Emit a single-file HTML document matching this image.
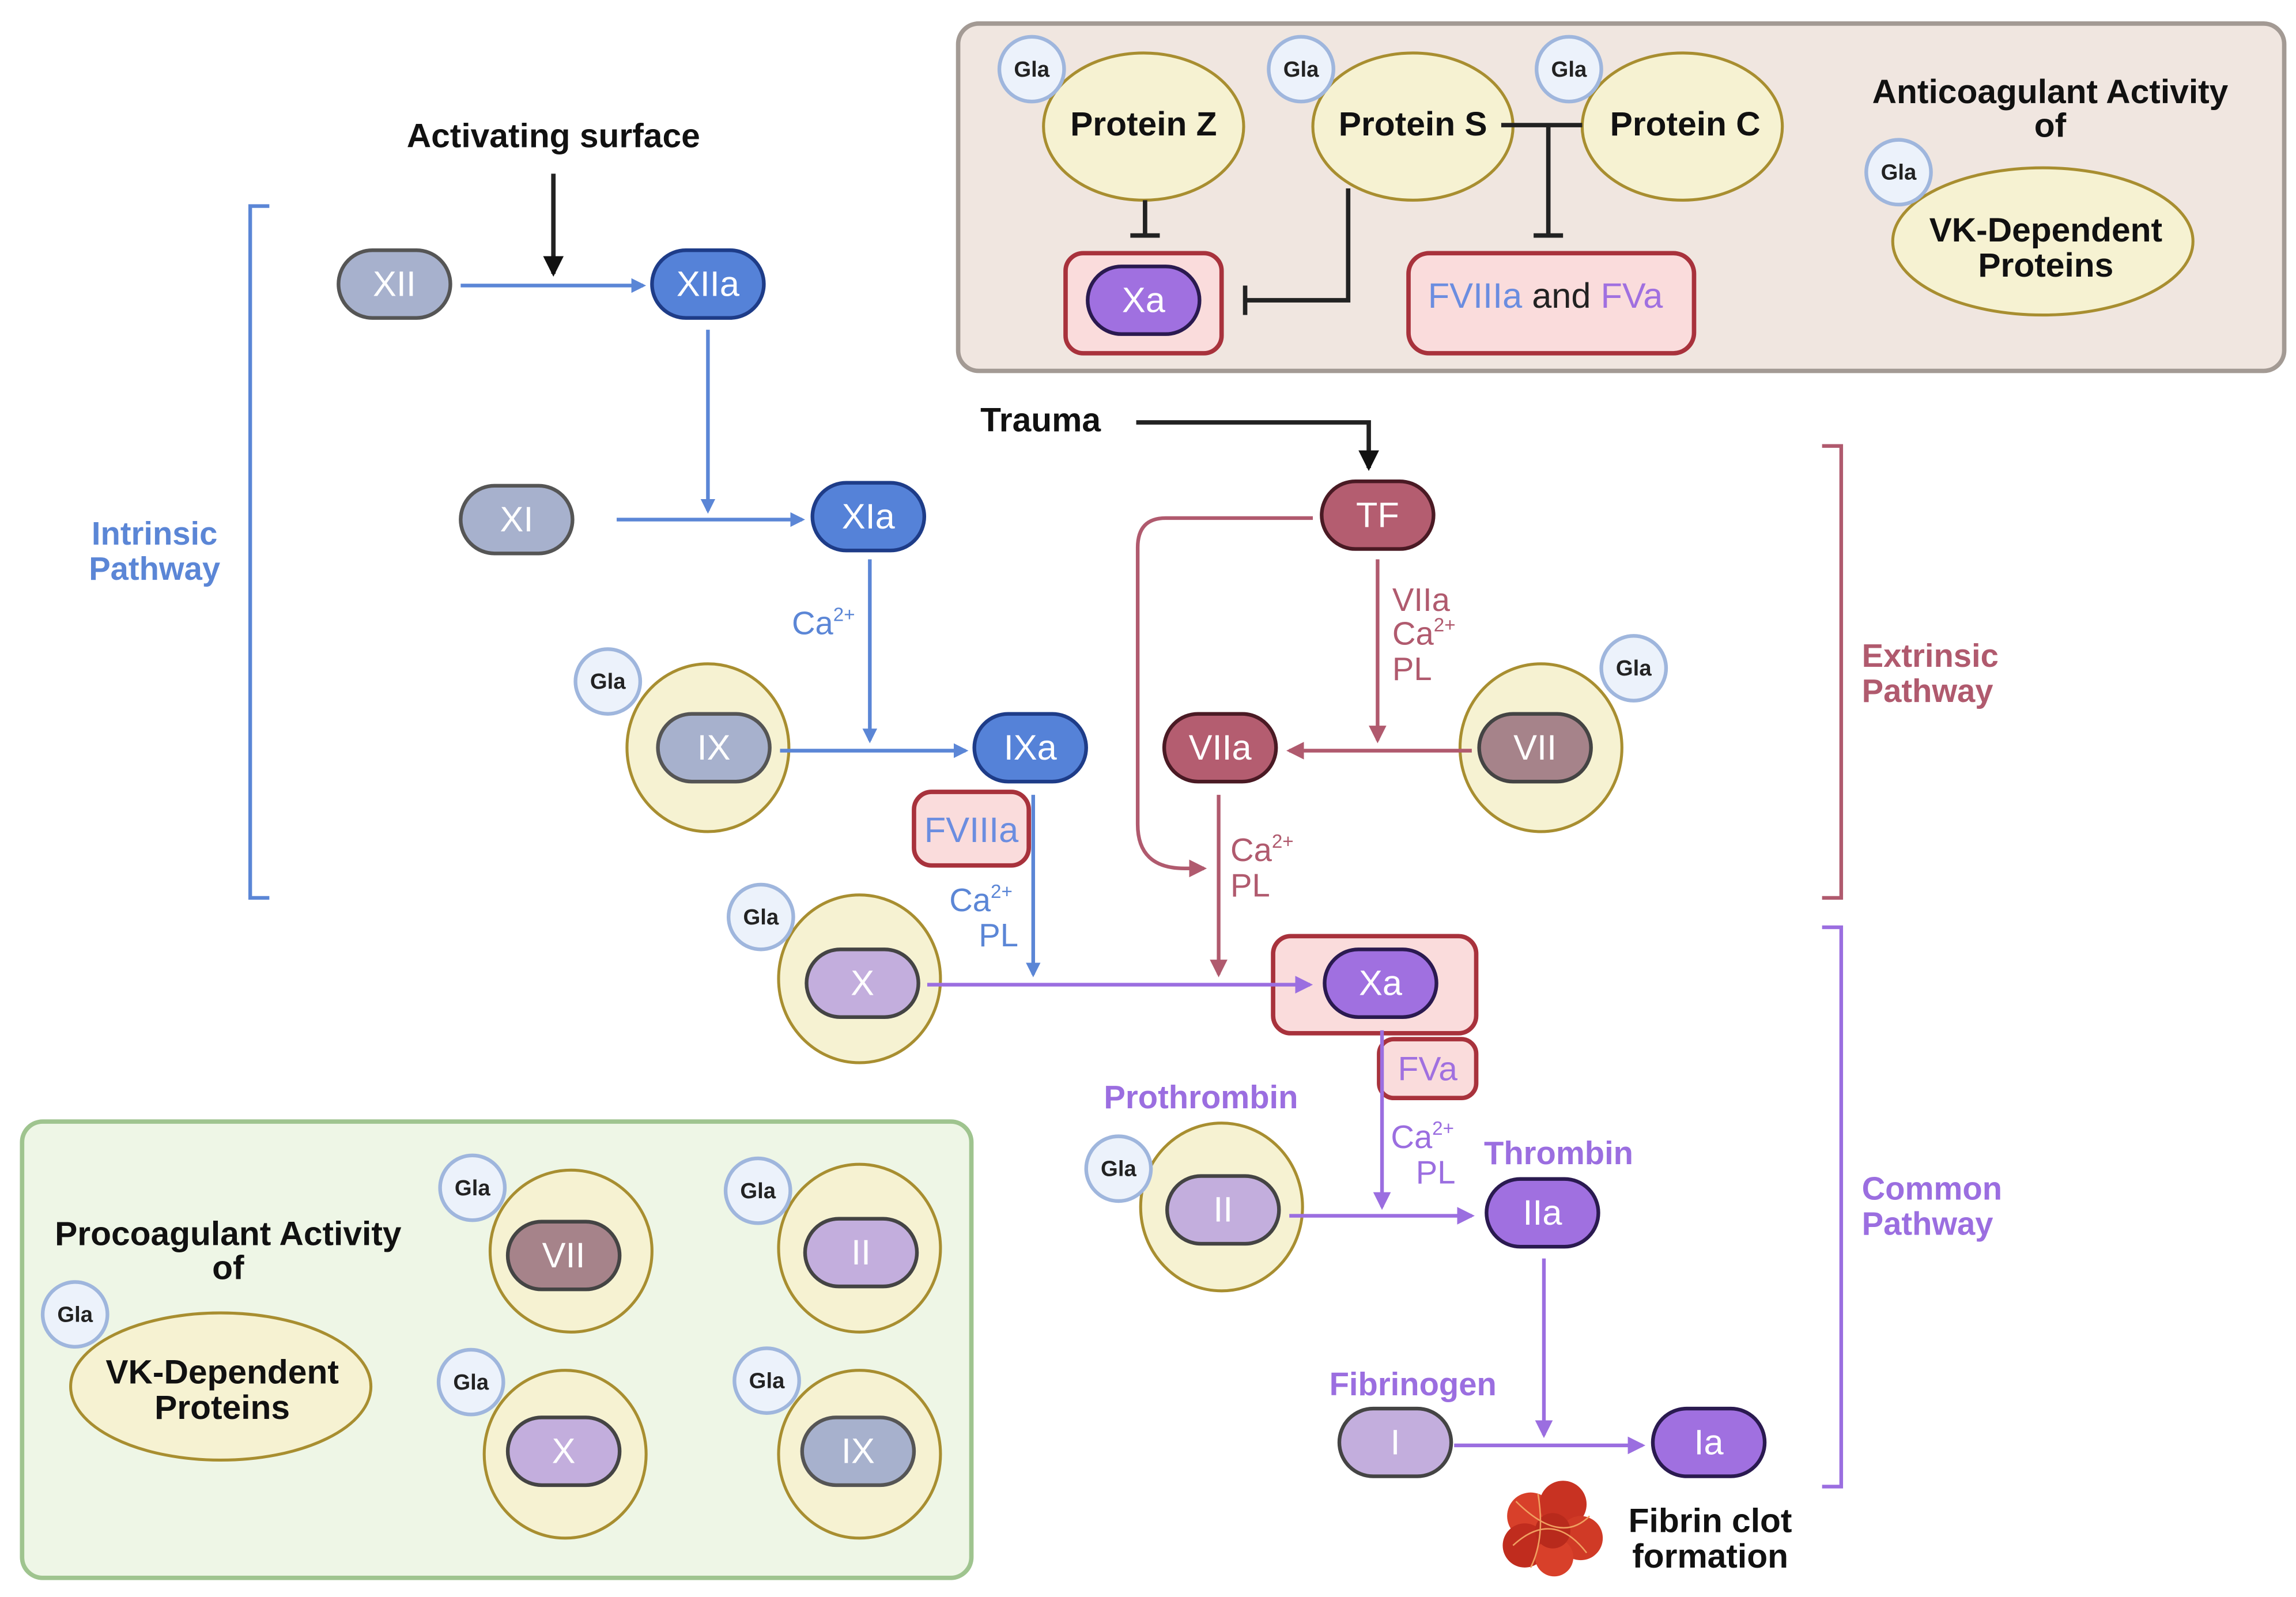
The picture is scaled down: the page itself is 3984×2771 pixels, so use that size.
<!DOCTYPE html>
<html><head><meta charset="utf-8"><style>
html,body{margin:0;padding:0;background:#fff}
svg{display:block}
text{font-family:"Liberation Sans",sans-serif}
</style></head><body>
<svg width="3984" height="2771" viewBox="0 0 1560 1085" preserveAspectRatio="none" xmlns="http://www.w3.org/2000/svg">
<defs>
<marker id="ab" markerWidth="10" markerHeight="10" refX="8" refY="5" orient="auto" markerUnits="userSpaceOnUse"><path d="M0,0 L10,5 L0,10 z" fill="#5b86d6"/></marker>
<marker id="ar" markerWidth="12" markerHeight="12" refX="10" refY="6" orient="auto" markerUnits="userSpaceOnUse"><path d="M0,0 L12,6 L0,12 z" fill="#b05a6e"/></marker>
<marker id="ap" markerWidth="12" markerHeight="12" refX="10" refY="6" orient="auto" markerUnits="userSpaceOnUse"><path d="M0,0 L12,6 L0,12 z" fill="#9b6ee0"/></marker>
<marker id="ak" markerWidth="14" markerHeight="14" refX="12" refY="7" orient="auto" markerUnits="userSpaceOnUse"><path d="M0,0 L14,7 L0,14 z" fill="#111"/></marker>
</defs>

<rect x="651" y="16" width="901" height="236" rx="14" fill="#f0e6e0" stroke="#a39a94" stroke-width="3"/>
<rect x="15" y="762" width="645" height="310" rx="14" fill="#eef6e6" stroke="#9fc48f" stroke-width="3"/>

<g fill="#f6f2d2" stroke="#a88e30" stroke-width="2">
<ellipse cx="777" cy="86" rx="68" ry="50"/>
<ellipse cx="960" cy="86" rx="68" ry="50"/>
<ellipse cx="1143" cy="86" rx="68" ry="50"/>
<ellipse cx="1388" cy="164" rx="102" ry="50"/>
<ellipse cx="150" cy="942" rx="102" ry="50"/>
<ellipse cx="481" cy="508" rx="55" ry="57"/>
<ellipse cx="584" cy="665" rx="55" ry="57"/>
<ellipse cx="1047" cy="508" rx="55" ry="57"/>
<ellipse cx="830" cy="820" rx="55" ry="57"/>
<ellipse cx="388" cy="850" rx="55" ry="55"/>
<ellipse cx="584" cy="848" rx="55" ry="57"/>
<ellipse cx="384" cy="988" rx="55" ry="57"/>
<ellipse cx="584" cy="988" rx="55" ry="57"/>
</g>

<g fill="#ecf2fb" stroke="#9fb6dd" stroke-width="2.5">
<circle cx="701" cy="47" r="22"/><circle cx="884" cy="47" r="22"/><circle cx="1066" cy="47" r="22"/>
<circle cx="1290" cy="117" r="22"/><circle cx="413" cy="463" r="22"/><circle cx="517" cy="623" r="22"/>
<circle cx="1110" cy="454" r="22"/><circle cx="760" cy="794" r="22"/><circle cx="51" cy="893" r="22"/>
<circle cx="321" cy="807" r="22"/><circle cx="515" cy="809" r="22"/><circle cx="320" cy="939" r="22"/><circle cx="521" cy="938" r="22"/>
</g>
<g font-size="15" font-weight="bold" fill="#222" text-anchor="middle">
<text x="701" y="52">Gla</text><text x="884" y="52">Gla</text><text x="1066" y="52">Gla</text>
<text x="1290" y="122">Gla</text><text x="413" y="468">Gla</text><text x="517" y="628">Gla</text>
<text x="1110" y="459">Gla</text><text x="760" y="799">Gla</text><text x="51" y="898">Gla</text>
<text x="321" y="812">Gla</text><text x="515" y="814">Gla</text><text x="320" y="944">Gla</text><text x="521" y="943">Gla</text>
</g>

<g fill="#fadcdc" stroke="#a8323c" stroke-width="3">
<rect x="724" y="172" width="106" height="68" rx="12"/>
<rect x="957" y="172" width="194" height="68" rx="14"/>
<rect x="865" y="636" width="138" height="66" rx="12"/>
<rect x="621" y="538" width="78" height="50" rx="12"/>
<rect x="937" y="706" width="66" height="40" rx="10"/>
</g>

<g stroke-width="2.5">
<rect x="230" y="170" width="76" height="46" rx="23" fill="#a7b1cd" stroke="#555"/>
<rect x="443" y="170" width="76" height="46" rx="23" fill="#5582d8" stroke="#1e3c88"/>
<rect x="313" y="330" width="76" height="46" rx="23" fill="#a7b1cd" stroke="#555"/>
<rect x="552" y="328" width="76" height="46" rx="23" fill="#5582d8" stroke="#1e3c88"/>
<rect x="447" y="485" width="76" height="46" rx="23" fill="#a7b1cd" stroke="#555"/>
<rect x="662" y="485" width="76" height="46" rx="23" fill="#5582d8" stroke="#1e3c88"/>
<rect x="548" y="645" width="76" height="46" rx="23" fill="#c3aedd" stroke="#444"/>
<rect x="900" y="645" width="76" height="46" rx="23" fill="#a070e0" stroke="#2a1a50"/>
<rect x="739" y="181" width="76" height="46" rx="23" fill="#a070e0" stroke="#2a1a50"/>
<rect x="898" y="327" width="76" height="46" rx="23" fill="#b45d70" stroke="#4a1a24"/>
<rect x="791" y="485" width="76" height="46" rx="23" fill="#b45d70" stroke="#4a1a24"/>
<rect x="1005" y="485" width="76" height="46" rx="23" fill="#a6838a" stroke="#444"/>
<rect x="793" y="799" width="76" height="46" rx="23" fill="#c3aedd" stroke="#444"/>
<rect x="1010" y="801" width="76" height="46" rx="23" fill="#a070e0" stroke="#2a1a50"/>
<rect x="910" y="957" width="76" height="46" rx="23" fill="#c3aedd" stroke="#444"/>
<rect x="1123" y="957" width="76" height="46" rx="23" fill="#a070e0" stroke="#2a1a50"/>
<rect x="345" y="830" width="76" height="46" rx="23" fill="#a6838a" stroke="#444"/>
<rect x="547" y="828" width="76" height="46" rx="23" fill="#c3aedd" stroke="#444"/>
<rect x="345" y="963" width="76" height="46" rx="23" fill="#c3aedd" stroke="#444"/>
<rect x="545" y="963" width="76" height="46" rx="23" fill="#a7b1cd" stroke="#555"/>
</g>
<g font-size="24" fill="#fff" text-anchor="middle">
<text x="268" y="201">XII</text><text x="481" y="201">XIIa</text><text x="351" y="361">XI</text>
<text x="590" y="359">XIa</text><text x="485" y="516">IX</text><text x="700" y="516">IXa</text>
<text x="586" y="676">X</text><text x="938" y="676">Xa</text><text x="777" y="212">Xa</text>
<text x="936" y="358">TF</text><text x="829" y="516">VIIa</text><text x="1043" y="516">VII</text>
<text x="831" y="830">II</text><text x="1048" y="832">IIa</text><text x="948" y="988">I</text>
<text x="1161" y="988">Ia</text><text x="383" y="861">VII</text><text x="585" y="859">II</text>
<text x="383" y="994">X</text><text x="583" y="994">IX</text>
</g>

<g font-size="23" font-weight="bold" fill="#111" text-anchor="middle">
<text x="777" y="92">Protein Z</text><text x="960" y="92">Protein S</text><text x="1145" y="92">Protein C</text>
<text x="1390" y="164">VK-Dependent</text><text x="1390" y="188">Proteins</text>
<text x="151" y="940">VK-Dependent</text><text x="151" y="964">Proteins</text>
<text x="1393" y="70">Anticoagulant Activity</text><text x="1393" y="93">of</text>
<text x="155" y="846">Procoagulant Activity</text><text x="155" y="869">of</text>
<text x="376" y="100">Activating surface</text>
<text x="707" y="293">Trauma</text>
<text x="1162" y="1041">Fibrin clot</text><text x="1162" y="1065">formation</text>
</g>
<text x="1050" y="209" font-size="24" text-anchor="middle"><tspan fill="#6b8de0">FVIIIa</tspan><tspan fill="#222"> and </tspan><tspan fill="#a070e0">FVa</tspan></text>
<text x="660" y="572" font-size="24" fill="#6b8de0" text-anchor="middle">FVIIIa</text>
<text x="970" y="734" font-size="23" fill="#a070e0" text-anchor="middle">FVa</text>

<g stroke="#222" stroke-width="3" fill="none">
<line x1="778" y1="136" x2="778" y2="160"/><line x1="768" y1="160" x2="788" y2="160"/>
<polyline points="916,128 916,204 846,204"/><line x1="846" y1="194" x2="846" y2="214"/>
<line x1="1020" y1="85" x2="1075" y2="85"/>
<line x1="1052" y1="85" x2="1052" y2="160"/><line x1="1042" y1="160" x2="1062" y2="160"/>
<line x1="376" y1="118" x2="376" y2="186" marker-end="url(#ak)"/>
<polyline points="772,287 930,287 930,318" marker-end="url(#ak)"/>
</g>

<g stroke="#5b86d6" stroke-width="2.5" fill="none">
<line x1="313" y1="194" x2="437" y2="194" marker-end="url(#ab)"/>
<line x1="481" y1="224" x2="481" y2="347" marker-end="url(#ab)"/>
<line x1="419" y1="353" x2="545" y2="353" marker-end="url(#ab)"/>
<line x1="591" y1="380" x2="591" y2="503" marker-end="url(#ab)"/>
<line x1="530" y1="510" x2="656" y2="510" marker-end="url(#ab)"/>
<line x1="702" y1="540" x2="702" y2="662" marker-end="url(#ab)"/>
<path d="M183,140 L170,140 L170,610 L183,610"/>
</g>
<g stroke="#b05a6e" stroke-width="2.5" fill="none">
<path d="M892,352 L792,352 Q773,352 773,372 L773,560 Q773,590 805,590 L818,590" marker-end="url(#ar)"/>
<line x1="936" y1="380" x2="936" y2="503" marker-end="url(#ar)"/>
<line x1="1000" y1="510" x2="876" y2="510" marker-end="url(#ar)"/>
<line x1="828" y1="540" x2="828" y2="662" marker-end="url(#ar)"/>
<polyline points="1238,303 1251,303 1251,610 1238,610"/>
</g>
<g stroke="#9b6ee0" stroke-width="2.5" fill="none">
<line x1="630" y1="669" x2="890" y2="669" marker-end="url(#ap)"/>
<line x1="939" y1="700" x2="939" y2="820" marker-end="url(#ap)"/>
<line x1="876" y1="826" x2="1000" y2="826" marker-end="url(#ap)"/>
<line x1="1049" y1="855" x2="1049" y2="975" marker-end="url(#ap)"/>
<line x1="988" y1="982" x2="1116" y2="982" marker-end="url(#ap)"/>
<polyline points="1238,630 1251,630 1251,1010 1238,1010"/>
</g>

<g font-size="22" font-weight="bold">
<text x="105" y="370" fill="#5b86d6" text-anchor="middle">Intrinsic</text>
<text x="105" y="394" fill="#5b86d6" text-anchor="middle">Pathway</text>
<text x="1265" y="453" fill="#b05a6e">Extrinsic</text>
<text x="1265" y="477" fill="#b05a6e">Pathway</text>
<text x="1265" y="815" fill="#9b6ee0">Common</text>
<text x="1265" y="839" fill="#9b6ee0">Pathway</text>
<text x="816" y="753" fill="#9b6ee0" text-anchor="middle">Prothrombin</text>
<text x="1059" y="791" fill="#9b6ee0" text-anchor="middle">Thrombin</text>
<text x="960" y="948" fill="#9b6ee0" text-anchor="middle">Fibrinogen</text>
</g>
<g font-size="22">
<text x="538" y="431" fill="#5b86d6">Ca<tspan font-size="13" dy="-9">2+</tspan></text>
<text x="645" y="619" fill="#5b86d6">Ca<tspan font-size="13" dy="-9">2+</tspan></text>
<text x="665" y="643" fill="#5b86d6">PL</text>
<text x="946" y="415" fill="#b05a6e">VIIa</text>
<text x="946" y="438" fill="#b05a6e">Ca<tspan font-size="13" dy="-9">2+</tspan></text>
<text x="946" y="462" fill="#b05a6e">PL</text>
<text x="836" y="585" fill="#b05a6e">Ca<tspan font-size="13" dy="-9">2+</tspan></text>
<text x="836" y="609" fill="#b05a6e">PL</text>
<text x="945" y="780" fill="#9b6ee0">Ca<tspan font-size="13" dy="-9">2+</tspan></text>
<text x="962" y="804" fill="#9b6ee0">PL</text>
</g>

<g>
<circle cx="1040" cy="1030" r="16" fill="#d8402a"/>
<circle cx="1062" cy="1022" r="16" fill="#c83222"/>
<circle cx="1074" cy="1045" r="15" fill="#d03a26"/>
<circle cx="1036" cy="1050" r="15" fill="#c02c1e"/>
<circle cx="1056" cy="1058" r="13" fill="#d8402a"/>
<circle cx="1055" cy="1040" r="12" fill="#b82a1c"/>
<path d="M1030,1020 Q1060,1050 1080,1030 M1028,1050 Q1055,1025 1078,1055 M1045,1015 Q1050,1045 1040,1065" stroke="#f0a060" stroke-width="1" fill="none"/>
</g>
</svg>
</body></html>
